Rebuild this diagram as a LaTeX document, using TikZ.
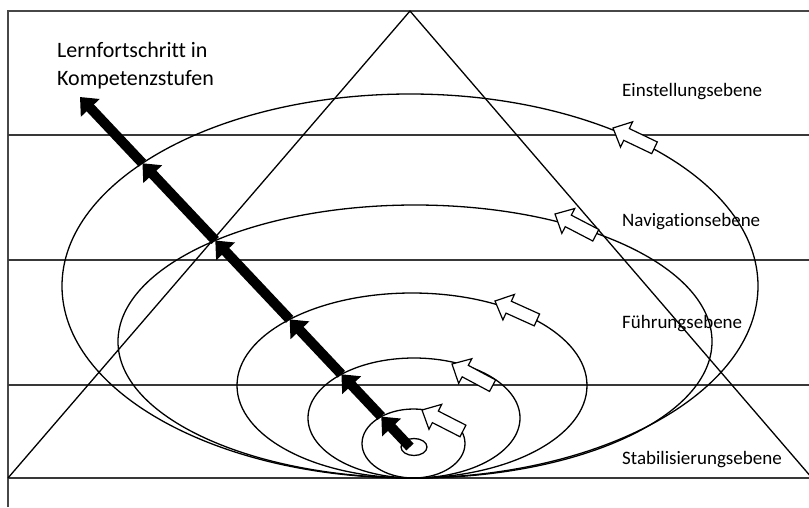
\documentclass[tikz,border=0pt]{standalone}
\usepackage{fontspec}
\setmainfont{Carlito}[Ligatures=NoCommon]
\usetikzlibrary{arrows.meta,intersections}
\begin{document}
\begin{tikzpicture}[x=1pt,y=-1pt,
  frameline/.style={draw=black!72,line width=1.7pt},
  levelline/.style={draw=black!78,line width=1.4pt},
  triline/.style={draw=black,line width=1.3pt},
  orbit/.style={draw=black,line width=1.3pt},
  progress/.style={line width=10pt,-{Triangle[length=15pt,width=25pt]}},
  lvl/.style={anchor=base west,inner sep=0pt,font=\fontsize{19}{23}\selectfont},
  ttl/.style={anchor=base west,inner sep=0pt,font=\fontsize{22}{27}\selectfont},
  blockarrow/.pic={\draw[fill=white,line width=1.2pt] (0,0) -- (15,-14) -- (15,-6.5) -- (46,-6.5) -- (46,6.5) -- (15,6.5) -- (15,14) -- cycle;}
]
\useasboundingbox (0,0) rectangle (809,507);
\clip (0,0) rectangle (809,507);
\fill[white] (0,0) rectangle (809,507);

% frame
\coordinate (TL) at (8,11);
\coordinate (TR) at (809,11);
\coordinate (BL) at (8,507);
\draw[frameline] (BL) -- (TL) -- (TR);

% level lines
\coordinate (L1a) at (8,135);  \coordinate (L1b) at (809,135);
\coordinate (L2a) at (8,260);  \coordinate (L2b) at (809,260);
\coordinate (L3a) at (8,385);  \coordinate (L3b) at (809,385);
\coordinate (L4a) at (8,478);  \coordinate (L4b) at (809,478);
\draw[levelline] (L1a) -- (L1b);
\draw[levelline] (L2a) -- (L2b);
\draw[levelline] (L3a) -- (L3b);
\draw[levelline] (L4a) -- (L4b);

% triangle
\coordinate (apex) at (410,11);
\coordinate (triL) at (8,478);
\coordinate (triR) at (812,478);
\draw[triline] (triL) -- (apex) -- (triR);

% ellipses
\draw[orbit,name path=ec] (410,286) ellipse [x radius=348,y radius=192];
\draw[orbit,name path=eb] (415,341.5) ellipse [x radius=297,y radius=136.5];
\draw[orbit,name path=ea] (412,385.5) ellipse [x radius=175,y radius=92.5];
\draw[orbit,name path=e3] (414,418) ellipse [x radius=106,y radius=60];
\draw[orbit,name path=e2] (413.5,443.5) ellipse [x radius=51.5,y radius=34.5];
\draw[orbit,name path=e1] (414,447) ellipse [x radius=13,y radius=8.5];

% progress arrow
\coordinate (tail) at (410,447);
\coordinate (head) at (80,97);
\path[name path=prog] (tail) -- (head);
\path[name intersections={of=prog and e2,by=x2}];
\path[name intersections={of=prog and e3,by=x3}];
\path[name intersections={of=prog and ea,by=xa}];
\path[name intersections={of=prog and eb,by=xb}];
\path[name intersections={of=prog and ec,by=xc}];
\draw[progress] (tail) -- (x2);
\draw[progress] (x2) -- (x3);
\draw[progress] (x3) -- (xa);
\draw[progress] (xa) -- (xb);
\draw[progress] (xb) -- (xc);
\draw[progress] (xc) -- (head);

% block arrows
\coordinate (a1) at (613,128);
\coordinate (a2) at (555,214);
\coordinate (a3) at (495,301);
\coordinate (a4) at (452,364);
\coordinate (a5) at (422,410);
\pic[rotate=-25.5] at (a1) {blockarrow};
\pic[rotate=-27.5] at (a2) {blockarrow};
\pic[rotate=-24.3] at (a3) {blockarrow};
\pic[rotate=-28.1] at (a4) {blockarrow};
\pic[rotate=-27.1] at (a5) {blockarrow};

% texts
\node[ttl] (t1) at (57,57) {Lernfortschritt in};
\node[ttl] (t2) at (57,85) {Kompetenzstufen};
\node[lvl] (n1) at (622,96) {Einstellungsebene};
\node[lvl] (n2) at (622,226) {Navigationsebene};
\node[lvl] (n3) at (622,328) {Führungsebene};
\node[lvl] (n4) at (622,464) {Stabilisierungsebene};
\end{tikzpicture}
\end{document}
